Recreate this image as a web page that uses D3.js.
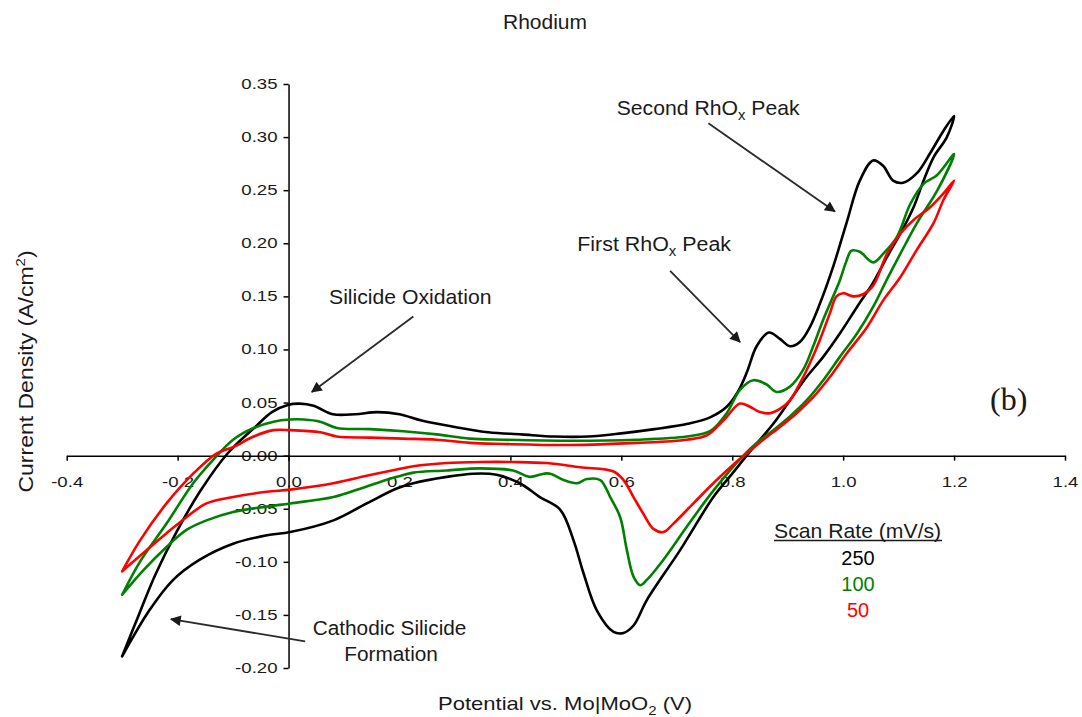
<!DOCTYPE html>
<html lang="en">
<head>
<meta charset="utf-8">
<title>Rhodium CV</title>
<script src="https://cdn.jsdelivr.net/npm/d3@7"></script>
<style>
  body { margin: 0; background: #fff; }
  text { font-family: "Liberation Sans", Arial, sans-serif; fill: #1a1a1a; }
  .axis path, .axis line { stroke: #000; stroke-width: 1.5; }
  .curve { fill: none; stroke-width: 2.6; stroke-linejoin: round; stroke-linecap: round; }
  .arrow { stroke: #2a2a2a; stroke-width: 1.8; }
</style>
</head>
<body>
<script>
// tick values
var xTicks = [-0.4, -0.2, 0.0, 0.2, 0.4, 0.6, 0.8, 1.0, 1.2, 1.4];
var yTicks = [-0.20, -0.15, -0.10, -0.05, 0.00, 0.05, 0.10, 0.15, 0.20, 0.25, 0.30, 0.35];

// 250 mV/s (black) - anodic sweep then cathodic sweep
var blackFwdV = [-0.30, -0.27, -0.24, -0.20, -0.16, -0.11, -0.06, -0.03, 0.00, 0.02, 0.045, 0.08, 0.12, 0.16, 0.20, 0.24, 0.30, 0.36, 0.42, 0.48, 0.54, 0.60, 0.66, 0.72, 0.76, 0.79, 0.81, 0.826, 0.844, 0.866, 0.886, 0.904, 0.922, 0.94, 0.958, 0.982, 1.006, 1.030, 1.054, 1.072, 1.090, 1.108, 1.133, 1.157, 1.181, 1.200];
var blackFwdJ = [-0.189, -0.150, -0.112, -0.070, -0.034, 0.002, 0.027, 0.041, 0.048, 0.049, 0.047, 0.039, 0.039, 0.041, 0.039, 0.033, 0.027, 0.022, 0.020, 0.018, 0.018, 0.021, 0.025, 0.030, 0.036, 0.046, 0.060, 0.078, 0.103, 0.116, 0.110, 0.103, 0.107, 0.121, 0.143, 0.178, 0.219, 0.259, 0.278, 0.273, 0.259, 0.257, 0.266, 0.285, 0.306, 0.320];
var blackRevV = [1.187, 1.163, 1.145, 1.127, 1.103, 1.079, 1.054, 1.025, 0.994, 0.964, 0.934, 0.904, 0.874, 0.850, 0.826, 0.80, 0.766, 0.706, 0.646, 0.622, 0.604, 0.586, 0.556, 0.532, 0.514, 0.490, 0.453, 0.417, 0.375, 0.333, 0.285, 0.225, 0.195, 0.141, 0.081, 0.003, -0.039, -0.100, -0.160, -0.208, -0.250, -0.300];
var blackRevJ = [0.300, 0.281, 0.259, 0.234, 0.209, 0.187, 0.163, 0.140, 0.115, 0.093, 0.074, 0.052, 0.030, 0.015, 0.000, -0.017, -0.039, -0.089, -0.136, -0.160, -0.167, -0.166, -0.146, -0.111, -0.080, -0.051, -0.039, -0.026, -0.018, -0.017, -0.020, -0.026, -0.031, -0.045, -0.061, -0.072, -0.075, -0.083, -0.098, -0.117, -0.145, -0.189];

// 100 mV/s (green)
var greenFwdV = [-0.30, -0.268, -0.22, -0.172, -0.136, -0.10, -0.063, -0.027, 0.003, 0.027, 0.057, 0.087, 0.147, 0.207, 0.267, 0.327, 0.387, 0.508, 0.628, 0.718, 0.760, 0.790, 0.814, 0.838, 0.862, 0.880, 0.904, 0.928, 0.946, 0.964, 0.982, 0.994, 1.005, 1.015, 1.030, 1.054, 1.072, 1.097, 1.121, 1.145, 1.169, 1.200];
var greenFwdJ = [-0.131, -0.100, -0.064, -0.026, -0.004, 0.015, 0.026, 0.032, 0.034, 0.034, 0.032, 0.026, 0.025, 0.023, 0.020, 0.016, 0.015, 0.014, 0.015, 0.018, 0.023, 0.040, 0.062, 0.071, 0.067, 0.060, 0.065, 0.081, 0.103, 0.128, 0.150, 0.165, 0.182, 0.193, 0.192, 0.182, 0.190, 0.206, 0.237, 0.256, 0.264, 0.284];
var greenRevV = [1.170, 1.133, 1.103, 1.078, 1.054, 1.025, 0.994, 0.964, 0.934, 0.904, 0.874, 0.844, 0.820, 0.766, 0.718, 0.676, 0.646, 0.634, 0.622, 0.610, 0.598, 0.580, 0.562, 0.538, 0.520, 0.496, 0.472, 0.460, 0.435, 0.405, 0.345, 0.285, 0.225, 0.195, 0.141, 0.081, 0.003, -0.039, -0.100, -0.148, -0.184, -0.220, -0.262, -0.300];
var greenRevJ = [0.250, 0.219, 0.190, 0.165, 0.140, 0.115, 0.093, 0.071, 0.052, 0.037, 0.024, 0.012, 0.000, -0.033, -0.067, -0.098, -0.117, -0.122, -0.114, -0.089, -0.058, -0.039, -0.023, -0.022, -0.026, -0.023, -0.017, -0.017, -0.020, -0.014, -0.012, -0.014, -0.016, -0.020, -0.029, -0.039, -0.045, -0.048, -0.053, -0.061, -0.070, -0.086, -0.108, -0.131];

// 50 mV/s (red)
var redFwdV = [-0.30, -0.268, -0.22, -0.172, -0.13, -0.10, -0.063, -0.027, 0.003, 0.057, 0.087, 0.147, 0.207, 0.267, 0.327, 0.387, 0.508, 0.628, 0.718, 0.754, 0.784, 0.814, 0.832, 0.850, 0.868, 0.886, 0.904, 0.922, 0.940, 0.958, 0.976, 0.988, 1.000, 1.018, 1.036, 1.054, 1.079, 1.103, 1.127, 1.157, 1.181, 1.200];
var redFwdJ = [-0.109, -0.080, -0.045, -0.017, 0.002, 0.008, 0.018, 0.024, 0.024, 0.022, 0.018, 0.017, 0.016, 0.015, 0.012, 0.011, 0.010, 0.012, 0.015, 0.019, 0.033, 0.049, 0.046, 0.041, 0.040, 0.044, 0.052, 0.068, 0.087, 0.109, 0.134, 0.150, 0.153, 0.150, 0.152, 0.160, 0.190, 0.209, 0.222, 0.234, 0.247, 0.259];
var redRevV = [1.181, 1.163, 1.133, 1.103, 1.072, 1.043, 1.006, 0.976, 0.946, 0.916, 0.886, 0.856, 0.826, 0.814, 0.766, 0.730, 0.694, 0.676, 0.658, 0.640, 0.622, 0.604, 0.586, 0.526, 0.466, 0.405, 0.345, 0.285, 0.225, 0.195, 0.141, 0.081, 0.003, -0.039, -0.100, -0.148, -0.184, -0.220, -0.256, -0.300];
var redRevJ = [0.241, 0.219, 0.194, 0.168, 0.146, 0.121, 0.096, 0.074, 0.055, 0.040, 0.027, 0.015, 0.002, -0.003, -0.026, -0.045, -0.064, -0.072, -0.069, -0.055, -0.039, -0.023, -0.015, -0.011, -0.007, -0.006, -0.006, -0.007, -0.010, -0.013, -0.019, -0.026, -0.032, -0.034, -0.039, -0.045, -0.058, -0.073, -0.089, -0.109];

var scanRates = ["250", "100", "50"];
var colors = ["#000000", "#008000", "#ff0000"];

var w = 1082, h = 717;

var svg = d3.select("body").append("svg")
  .attr("width", w)
  .attr("height", h);

var xScale = d3.scaleLinear().domain([-0.4, 1.4]).range([66.7, 1065]);
var yScale = d3.scaleLinear().domain([-0.2, 0.35]).range([668, 84]);

// arrow head
svg.append("defs").append("marker")
  .attr("id", "head")
  .attr("viewBox", "0 0 10 10")
  .attr("refX", 9).attr("refY", 5)
  .attr("markerWidth", 7).attr("markerHeight", 6)
  .attr("markerUnits", "strokeWidth")
  .attr("orient", "auto")
  .append("path")
  .attr("d", "M0,0 L10,5 L0,10 z")
  .attr("fill", "#1a1a1a");

// axes
var yAxis = d3.axisLeft(yScale)
  .tickValues(yTicks)
  .tickFormat(function(d){ return d.toFixed(2); })
  .tickSize(5)
  .tickSizeOuter(0);

var xAxis = d3.axisBottom(xScale)
  .tickValues(xTicks)
  .tickFormat(function(d){ return d.toFixed(1); })
  .tickSize(5)
  .tickSizeOuter(0);

var gy = svg.append("g")
  .attr("class", "axis")
  .attr("transform", "translate(" + xScale(0) + ",0)")
  .call(yAxis);

var gx = svg.append("g")
  .attr("class", "axis")
  .attr("transform", "translate(0," + yScale(0) + ")")
  .call(xAxis);

gy.selectAll("text")
  .attr("x", null)
  .attr("transform", "translate(-11,0) scale(1.33,1)")
  .style("font-size", "14px")
  .style("font-family", "'Liberation Sans', Arial, sans-serif")
  .attr("fill", "#1a1a1a");

gx.selectAll("text")
  .attr("y", null)
  .attr("transform", "translate(0,21) scale(1.33,1)")
  .style("font-size", "14px")
  .style("font-family", "'Liberation Sans', Arial, sans-serif")
  .attr("fill", "#1a1a1a");

// curves
var line = d3.line()
  .x(function(d){ return xScale(d[0]); })
  .y(function(d){ return yScale(d[1]); })
  .curve(d3.curveCatmullRom.alpha(0.5));

function loop(fv, fj, rv, rj) {
  var pts = fv.map(function(v, i){ return [v, fj[i]]; });
  return pts.concat(rv.map(function(v, i){ return [v, rj[i]]; }));
}

var series = [
  loop(blackFwdV, blackFwdJ, blackRevV, blackRevJ),
  loop(greenFwdV, greenFwdJ, greenRevV, greenRevJ),
  loop(redFwdV, redFwdJ, redRevV, redRevJ)
];

svg.selectAll(".curve")
  .data(series)
  .enter().append("path")
  .attr("class", "curve")
  .attr("stroke", function(d, i){ return colors[i]; })
  .attr("d", line);

// annotation arrows (data units)
var arrowFrom = [[0.757, 0.313], [0.688, 0.174], [0.225, 0.131], [0.030, -0.175]];
var arrowTo   = [[0.985, 0.230], [0.814, 0.107], [0.042, 0.060], [-0.212, -0.154]];

svg.selectAll(".arrow")
  .data(arrowFrom)
  .enter().append("line")
  .attr("class", "arrow")
  .attr("x1", function(d){ return xScale(d[0]); })
  .attr("y1", function(d){ return yScale(d[1]); })
  .attr("x2", function(d, i){ return xScale(arrowTo[i][0]); })
  .attr("y2", function(d, i){ return yScale(arrowTo[i][1]); })
  .attr("marker-end", "url(#head)");

// texts
function label(x, y, s, size, anchor) {
  return svg.append("text")
    .attr("transform", "translate(" + x + "," + y + ") scale(" + s + ",1)")
    .attr("text-anchor", anchor || "start")
    .style("font-size", size + "px");
}

label(545, 29, 1.0, 21, "middle").text("Rhodium");

var t1 = label(616.7, 115, 1.06, 20);
t1.append("tspan").text("Second RhO");
t1.append("tspan").attr("dy", 5).style("font-size", "14px").text("x");
t1.append("tspan").attr("dy", -5).text(" Peak");

var t2 = label(577.3, 250.7, 1.07, 20);
t2.append("tspan").text("First RhO");
t2.append("tspan").attr("dy", 5).style("font-size", "14px").text("x");
t2.append("tspan").attr("dy", -5).text(" Peak");

label(329, 304, 1.06, 20).text("Silicide Oxidation");
label(312.7, 635, 1.04, 20).text("Cathodic Silicide");
label(344.3, 661, 1.04, 20).text("Formation");

svg.append("text")
  .attr("transform", "translate(990,410)")
  .style("font-family", "'Liberation Serif', 'Times New Roman', serif")
  .style("font-size", "32px")
  .text("(b)");

// legend
label(774, 538, 1.06, 20).text("Scan Rate (mV/s)");
svg.append("line")
  .attr("x1", 774).attr("x2", 942)
  .attr("y1", 540.5).attr("y2", 540.5)
  .attr("stroke", "#1a1a1a").attr("stroke-width", 1.5);

svg.selectAll(".leg")
  .data(scanRates)
  .enter().append("text")
  .attr("class", "leg")
  .attr("x", 858)
  .attr("y", function(d, i){ return 565 + i * 26; })
  .attr("text-anchor", "middle")
  .style("font-size", "20px")
  .style("fill", function(d, i){ return colors[i]; })
  .text(function(d){ return d; });

// axis titles
var xt = label(565, 710, 1.16, 19, "middle");
xt.append("tspan").text("Potential vs. Mo|MoO");
xt.append("tspan").attr("dy", 5).style("font-size", "13px").text("2");
xt.append("tspan").attr("dy", -5).text(" (V)");

var yt = svg.append("text")
  .attr("transform", "translate(33,371.5) rotate(-90) scale(1.15,1)")
  .attr("text-anchor", "middle")
  .style("font-size", "20px");
yt.append("tspan").text("Current Density (A/cm");
yt.append("tspan").attr("dy", -8).style("font-size", "13px").text("2");
yt.append("tspan").attr("dy", 8).text(")");
</script>
</body>
</html>
